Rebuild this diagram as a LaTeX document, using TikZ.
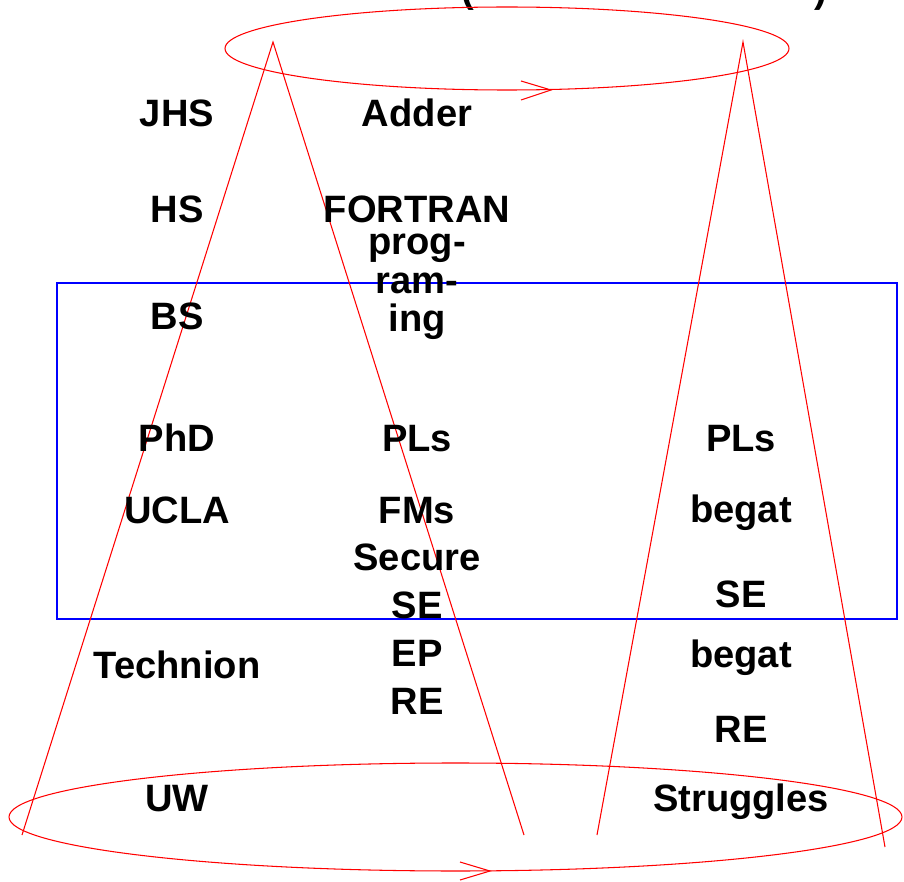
\documentclass[tikz,border=0pt]{standalone}
\usepackage{fontspec}
\setmainfont{Liberation Sans}
\begin{document}
\begin{tikzpicture}[x=0.02cm,y=-0.02cm,
  lbl/.style={font=\fontsize{21.7}{24}\selectfont\bfseries, inner sep=0pt, anchor=base},
  redline/.style={draw=red, line width=0.6pt},
  blueline/.style={draw=blue, line width=0.6pt}]
\path[use as bounding box] (0,0) rectangle (904,882);
% partially visible title parentheses
\node[lbl] (lp) at (468,2.5) {(};
\node[lbl] (rp) at (821,2.5) {)};
% blue box
\draw[blueline] (57,283) rectangle (897,619);
% ellipses
\draw[redline] (507,48.5) ellipse [x radius=282, y radius=41.5];
\draw[redline] (455.5,817) ellipse [x radius=446.5, y radius=54];
\draw[redline] (521,81) -- (551,90) -- (521,100);
\draw[redline] (460,862) -- (490,871) -- (460,880);
% triangles
\coordinate (lA) at (273,42);
\coordinate (lL) at (22,835);
\coordinate (lR) at (524,835);
\coordinate (rA) at (743,42);
\coordinate (rL) at (597,835);
\coordinate (rR) at (885,847);
\draw[redline] (lL) -- (lA) -- (lR);
\draw[redline] (rL) -- (rA) -- (rR);
% left column
\node[lbl] (jhs) at (177,127) {JHS};
\node[lbl] (hs) at (177,223) {HS};
\node[lbl] (bs) at (177,330) {BS};
\node[lbl] (phd) at (177,451) {PhD};
\node[lbl] (ucla) at (177,523) {UCLA};
\node[lbl] (tech) at (177,678) {Technion};
\node[lbl] (uw) at (177,811) {UW};
% middle column
\node[lbl] (adder) at (417,127) {Adder};
\node[lbl] (fortran) at (417,223) {FORTRAN};
\node[lbl] (prog) at (417,255) {prog-};
\node[lbl] (ram) at (417,294) {ram-};
\node[lbl] (ing) at (417,332) {ing};
\node[lbl] (pls) at (417,451) {PLs};
\node[lbl] (fms) at (417,523) {FMs};
\node[lbl] (secure) at (417,570) {Secure};
\node[lbl] (se) at (417,618) {SE};
\node[lbl] (ep) at (417,666) {EP};
\node[lbl] (re) at (417,714) {RE};
% right column
\node[lbl] (pls2) at (741,452) {PLs};
\node[lbl] (begat1) at (741,522) {begat};
\node[lbl] (se2) at (741,607) {SE};
\node[lbl] (begat2) at (741,667) {begat};
\node[lbl] (re2) at (741,742) {RE};
\node[lbl] (strug) at (741,811) {Struggles};
\end{tikzpicture}
\end{document}
